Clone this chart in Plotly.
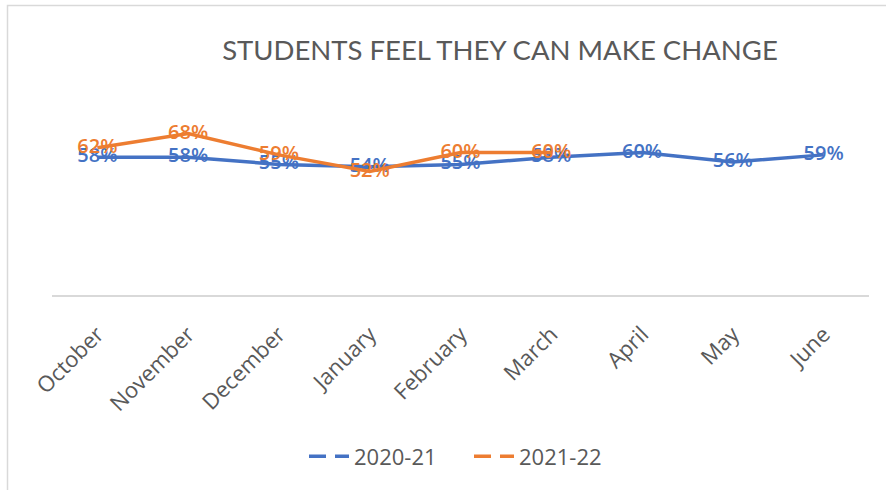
import plotly.graph_objects as go

months = ["October", "November", "December", "January", "February",
          "March", "April", "May", "June"]
series_2020_21 = [0.58, 0.58, 0.55, 0.54, 0.55, 0.58, 0.60, 0.56, 0.59]
series_2021_22 = [0.62, 0.68, 0.59, 0.52, 0.60, 0.60]

BLUE = "#4472C4"
ORANGE = "#ED7D31"
GREY = "#595959"
TITLE_FONT = "Lato"
FONT = "Open Sans"

fig = go.Figure()

for name, vals, color in [("2020-21", series_2020_21, BLUE),
                          ("2021-22", series_2021_22, ORANGE)]:
    fig.add_trace(go.Scatter(
        x=months[:len(vals)], y=vals, mode="lines+text",
        line=dict(color=color, width=3.5),
        text=[f"{v:.0%}" for v in vals], textposition="middle center",
        textfont=dict(family=FONT, size=20, color=color, weight=600),
        showlegend=False, cliponaxis=False,
    ))

# legend entries drawn with dashed keys
for name, color in [("2020-21", BLUE), ("2021-22", ORANGE)]:
    fig.add_trace(go.Scatter(
        x=[None], y=[None], mode="lines", name=name,
        line=dict(color=color, width=3.5, dash="17px,9px"),
    ))

fig.update_layout(
    width=886, height=490,
    margin=dict(l=52, r=17, t=105, b=195),
    paper_bgcolor="white", plot_bgcolor="white",
    title=dict(text="STUDENTS FEEL THEY CAN MAKE CHANGE",
               x=500 / 886, xanchor="center", y=1 - 50 / 490, yanchor="middle",
               font=dict(family=TITLE_FONT, size=27.5, color=GREY)),
    xaxis=dict(type="category", categoryarray=months, range=[-0.5, 8.5],
               showgrid=False, showline=True, linecolor="#D9D9D9", linewidth=1.5,
               ticks="", tickangle=-45, ticklabelstandoff=16,
               tickfont=dict(family=FONT, size=22, color=GREY)),
    yaxis=dict(range=[0, 0.8], visible=False, showgrid=False, zeroline=False),
    legend=dict(orientation="h", x=(469 - 52) / 817, xanchor="center",
                xref="paper", y=-0.85, yanchor="middle",
                font=dict(family=FONT, size=22, color=GREY),
                itemwidth=40, entrywidth=110),
    shapes=[dict(type="rect", xref="paper", yref="paper",
                 x0=(7.5 - 52) / 817, x1=1.2, y0=-1.2, y1=(295 - 5.5) / 190,
                 line=dict(color="#D9D9D9", width=1.5), layer="below")],
)

fig.write_html("out.html")
